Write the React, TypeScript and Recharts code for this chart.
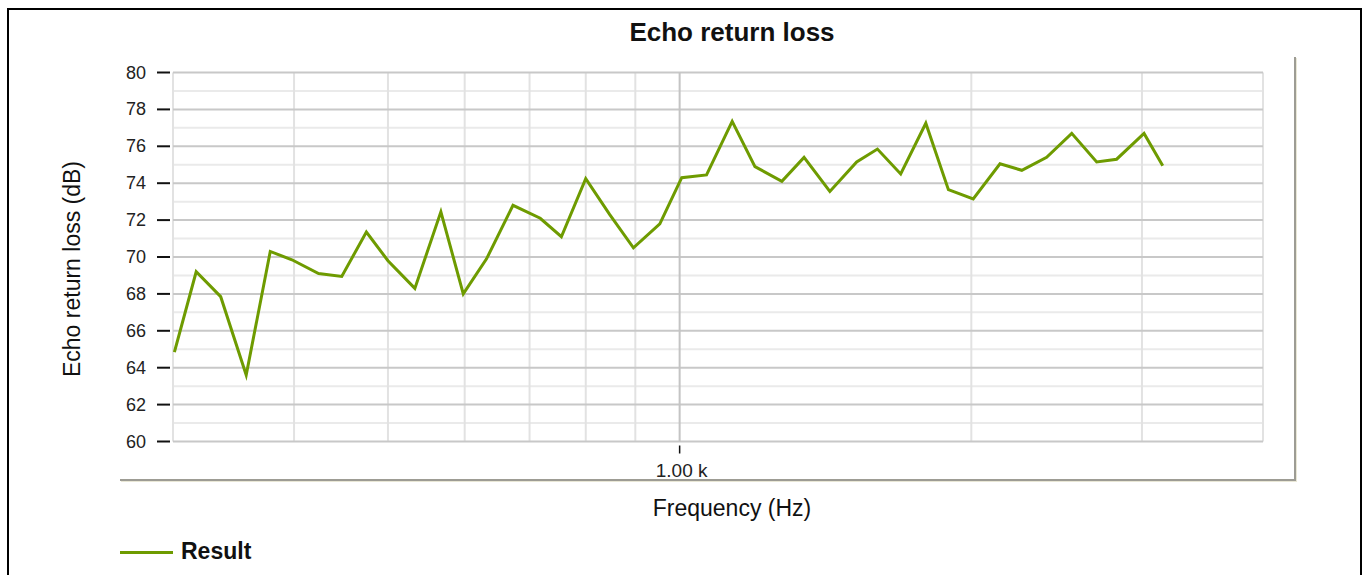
import { LineChart, Line, XAxis, YAxis, CartesianGrid } from 'recharts'

// Frequencies (Hz) (about 1/12 octave apart) and the echo return loss (dB)
const frequencies = [
  301, 317, 336, 357, 378, 398, 424, 448, 475, 500, 533, 567, 598, 632, 673, 718, 755, 800, 847, 896, 954,
  1005, 1066, 1133, 1196, 1275, 1344, 1429, 1523, 1600, 1691, 1795, 1894, 2009, 2141, 2255, 2392, 2539,
  2694, 2825, 3015, 3152,
]
const resultDb = [
  64.85, 69.2, 67.85, 63.6, 70.3, 69.85, 69.1, 68.95, 71.35, 69.8, 68.3, 72.45, 68.0, 69.9, 72.8, 72.1,
  71.1, 74.25, 72.3, 70.5, 71.8, 74.3, 74.45, 77.35, 74.9, 74.1, 75.4, 73.55, 75.15, 75.85, 74.5, 77.25,
  73.65, 73.15, 75.05, 74.7, 75.4, 76.7, 75.15, 75.3, 76.7, 74.95,
]

const yTicks = [60, 62, 64, 66, 68, 70, 72, 74, 76, 78, 80]
const yMinorLines = [61, 63, 65, 67, 69, 71, 73, 75, 77, 79]
const xTicks = [1000]
const xGridLines = [300, 400, 500, 600, 700, 800, 900, 2000, 3000, 4000]
const xMajorLines = [1000]

const chartData = frequencies.map((f, i) => ({ freq: f, result: resultDb[i] }))

const FONT = 'Arial, "Liberation Sans", sans-serif'
const GREEN = '#6e9b00'

function YTick(props: any) {
  const { x, y, payload } = props
  return (
    <g>
      <line x1={x - 16} x2={x - 3} y1={y} y2={y} stroke="#111" strokeWidth={2} />
      <text x={x - 27} y={y} textAnchor="end" dominantBaseline="central" fontSize={18} fill="#222" fontFamily={FONT}>
        {payload.value}
      </text>
    </g>
  )
}

function XTick(props: any) {
  const { x, y, payload } = props
  return (
    <g>
      <line x1={x} x2={x} y1={y + 4} y2={y + 12} stroke="#111" strokeWidth={1.5} />
      <text x={x + 2} y={y + 35} textAnchor="middle" fontSize={19} fill="#222" fontFamily={FONT}>
        {(payload.value / 1000).toFixed(2) + ' k'}
      </text>
    </g>
  )
}

export default function App() {
  return (
    <div
      style={{
        position: 'absolute', left: 0, top: 0, width: 1363, height: 575,
        overflow: 'hidden', background: '#fff', fontFamily: FONT,
      }}
    >
      {/* outer frame */}
      <div
        style={{
          position: 'absolute', left: 7, top: 8, width: 1355, height: 620, boxSizing: 'border-box',
          border: '2px solid #000',
        }}
      />
      {/* panel shadow */}
      <div
        style={{
          position: 'absolute', left: 120, top: 57, width: 1176, height: 424, boxSizing: 'border-box',
          borderRight: '2px solid #9d9c94', borderBottom: '2px solid #9d9c94',
          boxShadow: '1px 1px 0 #e9e7d6',
        }}
      />
      <div
        style={{
          position: 'absolute', left: 532, width: 400, top: 16, textAlign: 'center',
          fontSize: 26, fontWeight: 'bold', color: '#111', lineHeight: '32px',
        }}
      >
        Echo return loss
      </div>
      <div
        style={{
          position: 'absolute', left: 72 - 150, top: 269 - 14, width: 300, height: 28, lineHeight: '28px',
          textAlign: 'center', fontSize: 23, color: '#111', transform: 'rotate(-90deg)',
        }}
      >
        Echo return loss (dB)
      </div>
      <div
        style={{
          position: 'absolute', left: 582, width: 300, top: 494, lineHeight: '28px', textAlign: 'center',
          fontSize: 23, color: '#111',
        }}
      >
        Frequency (Hz)
      </div>
      {/* legend */}
      <div style={{ position: 'absolute', left: 120, top: 551, width: 53, height: 3, background: GREEN }} />
      <div
        style={{
          position: 'absolute', left: 181, top: 537, lineHeight: '28px', fontSize: 23, fontWeight: 'bold',
          color: '#111',
        }}
      >
        Result
      </div>

      <div style={{ position: 'absolute', left: 0, top: 0 }}>
        <LineChart width={1363} height={575} data={chartData} margin={{ top: 72.5, right: 100, bottom: 103.5, left: 113 }}>
          <CartesianGrid horizontal={true} vertical={false} horizontalValues={yMinorLines} stroke="#eaeaea" strokeWidth={2} />
          <CartesianGrid horizontal={false} vertical={true} verticalValues={xGridLines} stroke="#e2e2e2" strokeWidth={2} />
          <CartesianGrid horizontal={true} vertical={false} horizontalValues={yTicks} stroke="#c8c8c8" strokeWidth={2} />
          <CartesianGrid horizontal={false} vertical={true} verticalValues={xMajorLines} stroke="#c4c4c4" strokeWidth={2} />
          <XAxis
            dataKey="freq"
            type="number"
            scale="log"
            domain={[300, 4000]}
            allowDataOverflow
            ticks={xTicks}
            axisLine={false}
            tickLine={false}
            tickSize={0}
            tickMargin={0}
            height={30}
            tick={<XTick />}
            interval={0}
          />
          <YAxis
            type="number"
            domain={[60, 80]}
            ticks={yTicks}
            axisLine={false}
            tickLine={false}
            tickSize={0}
            tickMargin={0}
            width={60}
            tick={<YTick />}
            interval={0}
          />
          <Line
            type="linear"
            dataKey="result"
            stroke={GREEN}
            strokeWidth={3}
            dot={false}
            isAnimationActive={false}
          />
        </LineChart>
      </div>
    </div>
  )
}
